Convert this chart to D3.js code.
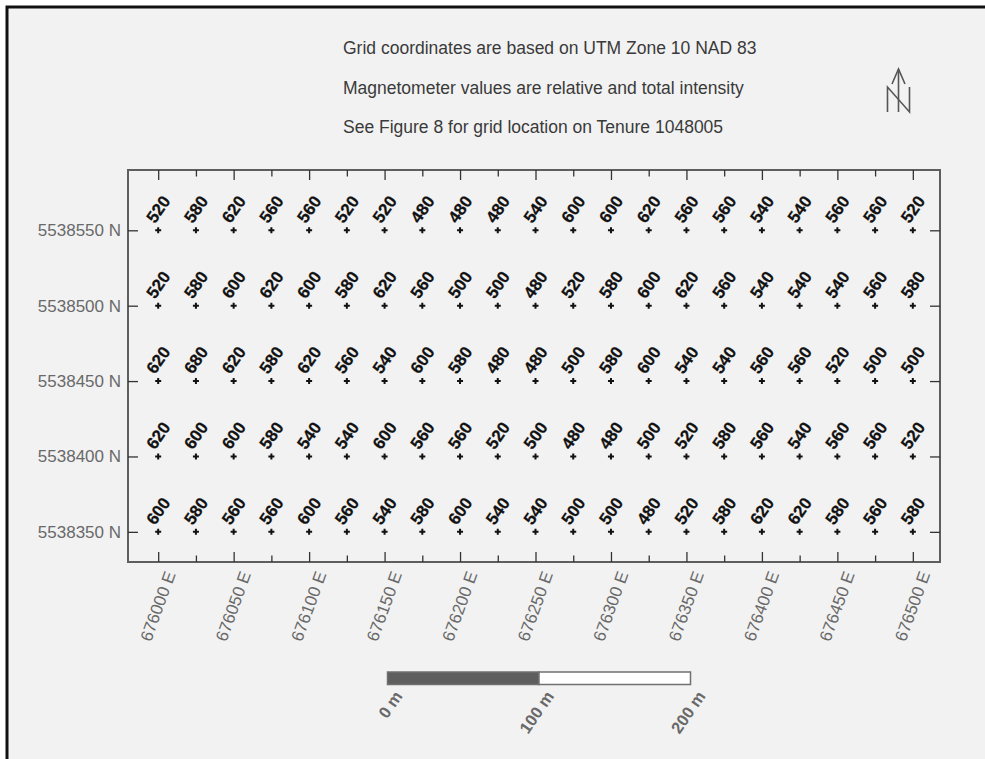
<!DOCTYPE html>
<html>
<head>
<meta charset="utf-8">
<script src="https://cdn.jsdelivr.net/npm/d3@7"></script>
<style>
  html, body { margin: 0; padding: 0; background: #ffffff; }
  svg { display: block; }
  text { font-family: "Liberation Sans", Arial, sans-serif; }
</style>
</head>
<body>
<svg id="map" width="985" height="759"></svg>
<script>
// Station eastings along each grid line (m, UTM Zone 10)
const eastings = [676000, 676025, 676050, 676075, 676100, 676125, 676150, 676175, 676200, 676225,
                  676250, 676275, 676300, 676325, 676350, 676375, 676400, 676425, 676450, 676475, 676500];
// Grid line northings (m)
const northings = [5538550, 5538500, 5538450, 5538400, 5538350];

// Magnetometer readings per line, west to east
const line5538550 = [520, 580, 620, 560, 560, 520, 520, 480, 480, 480, 540, 600, 600, 620, 560, 560, 540, 540, 560, 560, 520];
const line5538500 = [520, 580, 600, 620, 600, 580, 620, 560, 500, 500, 480, 520, 580, 600, 620, 560, 540, 540, 540, 560, 580];
const line5538450 = [620, 680, 620, 580, 620, 560, 540, 600, 580, 480, 480, 500, 580, 600, 540, 540, 560, 560, 520, 500, 500];
const line5538400 = [620, 600, 600, 580, 540, 540, 600, 560, 560, 520, 500, 480, 480, 500, 520, 580, 560, 540, 560, 560, 520];
const line5538350 = [600, 580, 560, 560, 600, 560, 540, 580, 600, 540, 540, 500, 500, 480, 520, 580, 620, 620, 580, 560, 580];

// Labelled axis ticks
const eastTicks = [676000, 676050, 676100, 676150, 676200, 676250, 676300, 676350, 676400, 676450, 676500];
const eastMinorTicks = [676025, 676075, 676125, 676175, 676225, 676275, 676325, 676375, 676425, 676475];
const northTicks = [5538350, 5538400, 5538450, 5538500, 5538550];

// Scale bar stops (m)
const scaleStops = [0, 100, 200];

const notes = [
  "Grid coordinates are based on UTM Zone 10 NAD 83",
  "Magnetometer values are relative and total intensity",
  "See Figure 8 for grid location on Tenure 1048005"
];

const lines = [
  { north: northings[0], values: line5538550 },
  { north: northings[1], values: line5538500 },
  { north: northings[2], values: line5538450 },
  { north: northings[3], values: line5538400 },
  { north: northings[4], values: line5538350 }
];

const svg = d3.select("#map");

// sheet background and frame
svg.append("rect").attr("x", 7).attr("y", 7).attr("width", 1000).attr("height", 800)
  .attr("fill", "#f2f2f2").attr("stroke", "#111").attr("stroke-width", 3);

const plot = { left: 128, right: 940, top: 170, bottom: 562 };

const x = d3.scaleLinear().domain([675980, 676518]).range([plot.left, plot.right]);
const y = d3.scaleLinear().domain([5538330, 5538590]).range([plot.bottom, plot.top]);

const axisColor = "#5e5e5e";
const labelColor = "#696969";

// notes
svg.append("g").selectAll("text").data(notes).join("text")
  .attr("x", 343)
  .attr("y", (d, i) => 54 + i * 39.5)
  .attr("font-size", 17.5)
  .attr("fill", "#3a3a3a")
  .text(d => d);

// north arrow
const na = svg.append("g").attr("fill", "none").attr("stroke", "#555").attr("stroke-width", 1.6);
na.append("path").attr("d", "M898.5,69 L898.5,112");
na.append("path").attr("d", "M892,84 L898.5,69 L905,84");
na.append("path").attr("d", "M887.5,112 L887.5,87 L909.5,112 L909.5,87");

// plot frame
svg.append("rect")
  .attr("x", plot.left).attr("y", plot.top)
  .attr("width", plot.right - plot.left).attr("height", plot.bottom - plot.top)
  .attr("fill", "none").attr("stroke", axisColor).attr("stroke-width", 2);

function styleAxis(g) {
  g.select(".domain").remove();
  g.selectAll(".tick line").attr("stroke", "#333").attr("stroke-width", 1.3);
}

// bottom axis: major with labels, minor without
const bottomMajor = svg.append("g")
  .attr("transform", `translate(0,${plot.bottom})`)
  .call(d3.axisBottom(x).tickValues(eastTicks).tickSize(-10).tickSizeOuter(0)
    .tickFormat(d => d + " E"))
  .call(styleAxis);
bottomMajor.selectAll(".tick text")
  .attr("x", 0).attr("y", 0).attr("dy", "0.35em")
  .attr("text-anchor", "end")
  .attr("transform", "translate(11.5,10) rotate(-70)")
  .attr("font-size", 17)
  .attr("font-family", "Liberation Sans, Arial, sans-serif")
  .attr("fill", labelColor);

svg.append("g")
  .attr("transform", `translate(0,${plot.bottom})`)
  .call(d3.axisBottom(x).tickValues(eastMinorTicks).tickSize(-6.5).tickSizeOuter(0).tickFormat(""))
  .call(styleAxis);

// top axis
svg.append("g")
  .attr("transform", `translate(0,${plot.top})`)
  .call(d3.axisTop(x).tickValues(eastTicks).tickSize(-10).tickSizeOuter(0).tickFormat(""))
  .call(styleAxis);
svg.append("g")
  .attr("transform", `translate(0,${plot.top})`)
  .call(d3.axisTop(x).tickValues(eastMinorTicks).tickSize(-6.5).tickSizeOuter(0).tickFormat(""))
  .call(styleAxis);

// left axis with labels
const leftAxis = svg.append("g")
  .attr("transform", `translate(${plot.left},0)`)
  .call(d3.axisLeft(y).tickValues(northTicks).tickSize(-10).tickSizeOuter(0).tickPadding(7)
    .tickFormat(d => d + " N"))
  .call(styleAxis);
leftAxis.selectAll(".tick text")
  .attr("font-size", 17)
  .attr("font-family", "Liberation Sans, Arial, sans-serif")
  .attr("fill", labelColor);

// right axis
svg.append("g")
  .attr("transform", `translate(${plot.right},0)`)
  .call(d3.axisRight(y).tickValues(northTicks).tickSize(-10).tickSizeOuter(0).tickFormat(""))
  .call(styleAxis);

// stations and readings
const stations = lines.flatMap(l => l.values.map((v, i) => ({ east: eastings[i], north: l.north, value: v })));

const cross = d3.symbol().type(d3.symbolCross).size(20);
svg.append("g").selectAll("path").data(stations).join("path")
  .attr("transform", d => `translate(${x(d.east)},${y(d.north)})`)
  .attr("d", cross)
  .attr("fill", "#111");

svg.append("g").selectAll("text").data(stations).join("text")
  .attr("transform", d => `translate(${x(d.east)},${y(d.north) - 21}) rotate(-55)`)
  .attr("text-anchor", "middle")
  .attr("dy", "0.35em")
  .attr("font-size", 17)
  .attr("font-weight", "bold")
  .attr("fill", "#111")
  .attr("stroke", "#111")
  .attr("stroke-width", 0.25)
  .text(d => d.value);

// scale bar
const xs = d3.scaleLinear().domain([0, 200]).range([387.5, 690.5]);
const bar = svg.append("g");
bar.selectAll("rect").data(d3.pairs(scaleStops)).join("rect")
  .attr("x", d => xs(d[0])).attr("y", 672)
  .attr("width", d => xs(d[1]) - xs(d[0])).attr("height", 12.5)
  .attr("fill", (d, i) => i === 0 ? "#5e5e5e" : "#ffffff")
  .attr("stroke", "#707070").attr("stroke-width", 1.5);
bar.selectAll("text").data(scaleStops).join("text")
  .attr("transform", d => `translate(${xs(d) + 11},693) rotate(-55)`)
  .attr("text-anchor", "end")
  .attr("dy", "0.35em")
  .attr("font-size", 16.5)
  .attr("font-weight", "bold")
  .attr("fill", labelColor)
  .text(d => d + " m");
</script>
</body>
</html>
